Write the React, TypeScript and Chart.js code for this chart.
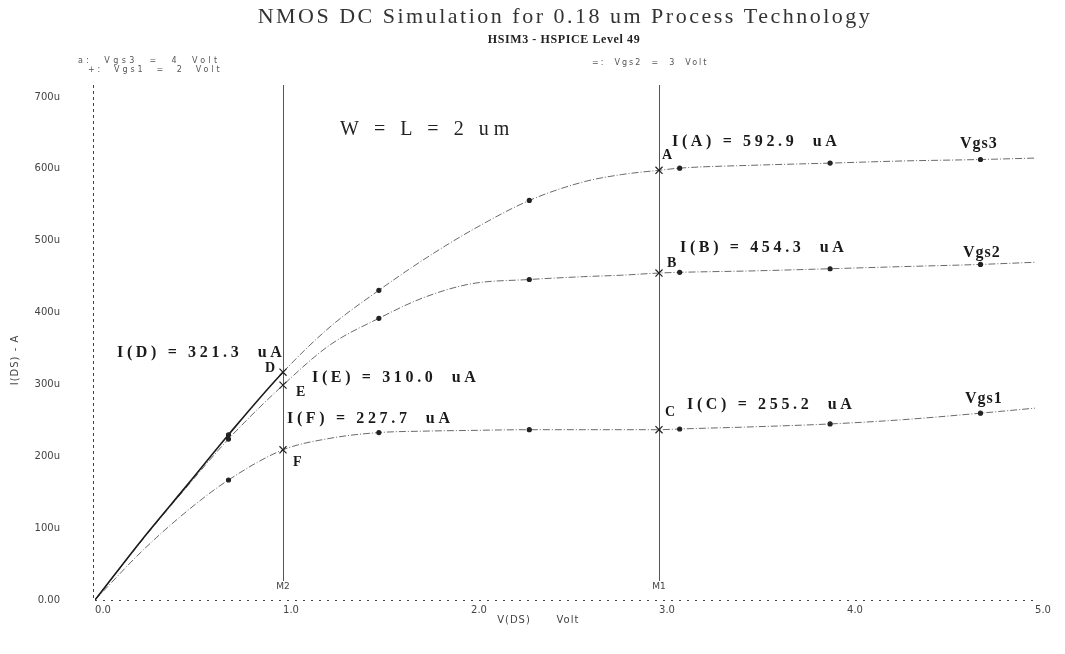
import React, { useEffect, useRef } from "react";
import { Chart, registerables } from "chart.js";

Chart.register(...registerables);

// ---- data (V in volts, I in microamps) ----
const VDS = [0, 0.25, 0.5, 0.71, 1.0, 1.25, 1.51, 1.75, 2.0, 2.31, 2.6, 2.8, 3.0, 3.11, 3.5, 3.91, 4.3, 4.71, 5.0];
const ID_VGS3 = [0, 84, 163, 230, 317, 380, 431, 474, 514, 556, 582, 592, 598, 601, 605, 608, 611, 613, 615];
const ID_VGS2 = [0, 83, 161, 224, 299, 355, 392, 421, 440, 446, 450, 452, 455, 456, 458, 461, 464, 467, 470];
const ID_VGS1 = [0, 68, 126, 167, 209, 225, 233, 235, 236, 237, 237, 237, 237, 238, 241, 245, 251, 260, 267];

const X_TICKS = ["0.0", "1.0", "2.0", "3.0", "4.0", "5.0"];
const Y_TICKS = ["0.00", "100u", "200u", "300u", "400u", "500u", "600u", "700u"];

const MARKER_X = [0.71, 1.51, 2.31, 3.11, 3.91, 4.71];
const CURSOR_X = [1.0, 3.0];
const CURSOR_NAMES = ["M2", "M1"];

const TITLE = "NMOS DC Simulation for 0.18 um Process Technology";
const SUBTITLE = "HSIM3 - HSPICE Level 49";
const LEGEND_LINES = ["a:  Vgs3  =  4  Volt", "+:  Vgs1  =  2  Volt"];
const LEGEND_RIGHT = "=:  Vgs2  =  3  Volt";

const READOUTS = ["I(A) = 592.9  uA", "I(B) = 454.3  uA", "I(C) = 255.2  uA", "I(D) = 321.3  uA", "I(E) = 310.0  uA", "I(F) = 227.7  uA"];
const POINT_NAMES = ["A", "B", "C", "D", "E", "F"];
const CURVE_NAMES = ["Vgs3", "Vgs2", "Vgs1"];

const toXY = (ys: number[]) => VDS.map((x, i) => ({ x, y: ys[i] }));

function pointRadius(ctx: any) {
  const x = VDS[ctx.dataIndex];
  if (CURSOR_X.includes(x)) return 5;
  if (MARKER_X.includes(x)) return 2;
  return 0;
}
function pointStyle(ctx: any) {
  const x = VDS[ctx.dataIndex];
  return CURSOR_X.includes(x) ? "crossRot" : "circle";
}

const DASH = [7, 2, 1, 2];

function makeDataset(label: string, ys: number[], solidUntil: number) {
  return {
    label,
    data: toXY(ys),
    borderColor: "#6a6a6a",
    borderWidth: 1,
    cubicInterpolationMode: "monotone" as const,
    fill: false,
    pointRadius,
    pointHoverRadius: pointRadius,
    pointStyle,
    pointBackgroundColor: "#222",
    pointBorderColor: "#222",
    pointBorderWidth: 1.2,
    segment: {
      borderDash: (c: any) => (c.p1.parsed.x <= solidUntil ? [] : DASH),
      borderColor: (c: any) => (c.p1.parsed.x <= solidUntil ? "#1a1a1a" : "#6a6a6a"),
      borderWidth: (c: any) => (c.p1.parsed.x <= solidUntil ? 1.6 : 1),
    },
  };
}

const overlay = {
  id: "overlay",
  beforeDatasetsDraw(chart: any) {
    const { ctx, chartArea, scales } = chart;
    ctx.save();
    // axes: dashed left axis, dotted bottom axis
    ctx.lineWidth = 1;
    ctx.strokeStyle = "#444";
    ctx.setLineDash([3, 3]);
    ctx.beginPath();
    ctx.moveTo(chartArea.left - 1.5, chartArea.top - 12);
    ctx.lineTo(chartArea.left - 1.5, chartArea.bottom);
    ctx.stroke();
    ctx.setLineDash([2, 6]);
    ctx.beginPath();
    ctx.moveTo(chartArea.left, chartArea.bottom + 0.5);
    ctx.lineTo(chartArea.right, chartArea.bottom + 0.5);
    ctx.stroke();
    ctx.setLineDash([]);
    // cursor lines
    ctx.strokeStyle = "#555";
    CURSOR_X.forEach((v) => {
      const px = Math.round(scales.x.getPixelForValue(v)) + 0.5;
      ctx.beginPath();
      ctx.moveTo(px, chartArea.top - 12);
      ctx.lineTo(px, chartArea.bottom - 19);
      ctx.stroke();
    });
    ctx.font = "9px 'DejaVu Sans'";
    ctx.fillStyle = "#444";
    ctx.textAlign = "center";
    ctx.textBaseline = "middle";
    CURSOR_X.forEach((v, i) => {
      ctx.fillText(CURSOR_NAMES[i], scales.x.getPixelForValue(v), chartArea.bottom - 13);
    });
    ctx.restore();
  },
  afterDraw(chart: any) {
    const { ctx } = chart;
    ctx.save();
    const text = (s: string, x: number, y: number, font: string, color: string, align: string, spacing: number) => {
      ctx.font = font;
      ctx.fillStyle = color;
      ctx.textAlign = align;
      ctx.textBaseline = "middle";
      (ctx as any).letterSpacing = spacing + "px";
      ctx.fillText(s, x, y);
    };
    // titles
    text(TITLE, 565, 17, "22px 'Liberation Serif'", "#333", "center", 2.5);
    text(SUBTITLE, 564, 40, "bold 12px 'Liberation Serif'", "#222", "center", 0.6);
    // legend-ish lines
    text(LEGEND_LINES[0], 78, 61, "8px 'DejaVu Sans'", "#555", "left", 3.4);
    text(LEGEND_LINES[1], 88, 70, "8px 'DejaVu Sans'", "#555", "left", 2.9);
    text(LEGEND_RIGHT, 592, 63, "8px 'DejaVu Sans'", "#555", "left", 2.0);
    // W = L
    text("W = L = 2 um", 340, 130, "20px 'Liberation Serif'", "#222", "left", 5);
    // readouts
    const rPos = [[672, 142], [680, 248], [687, 405], [117, 353], [312, 378], [287, 419]];
    READOUTS.forEach((s, i) => text(s, rPos[i][0], rPos[i][1], "bold 16px 'Liberation Serif'", "#1a1a1a", "left", 3.65));
    const pPos = [[662, 155], [667, 263], [665, 412], [265, 368], [296, 392], [293, 462]];
    POINT_NAMES.forEach((s, i) => text(s, pPos[i][0], pPos[i][1], "bold 14px 'Liberation Serif'", "#1a1a1a", "left", 0));
    const cPos = [[960, 144], [963, 253], [965, 399]];
    CURVE_NAMES.forEach((s, i) => text(s, cPos[i][0], cPos[i][1], "bold 16px 'Liberation Serif'", "#1a1a1a", "left", 1));
    // axis titles
    text("V(DS)", 514, 620, "10px 'DejaVu Sans'", "#444", "center", 1);
    text("Volt", 568, 620, "10px 'DejaVu Sans'", "#444", "center", 1);
    ctx.translate(15, 360);
    ctx.rotate(-Math.PI / 2);
    text("I(DS) - A", 0, 0, "10px 'DejaVu Sans'", "#444", "center", 1);
    ctx.restore();
  },
};

export default function App() {
  const ref = useRef<HTMLCanvasElement>(null);
  useEffect(() => {
    const chart = new Chart(ref.current!, {
      type: "line",
      data: {
        datasets: [
          makeDataset("Vgs3", ID_VGS3, 1.0),
          makeDataset("Vgs2", ID_VGS2, -1),
          makeDataset("Vgs1", ID_VGS1, -1),
        ],
      },
      options: {
        animation: false,
        responsive: false,
        devicePixelRatio: 1,
        layout: { padding: { left: 0, top: 97, right: 30, bottom: 0 } },
        plugins: { legend: { display: false }, tooltip: { enabled: false }, title: { display: false } },
        scales: {
          x: {
            type: "linear",
            min: 0,
            max: 5,
            grid: { display: false, drawTicks: false },
            border: { display: false },
            ticks: {
              stepSize: 1,
              padding: 4,
              labelOffset: 8,
              color: "#444",
              font: { family: "'DejaVu Sans'", size: 10 },
              callback: (v: any) => X_TICKS[Math.round(Number(v))],
            },
            afterFit: (s: any) => { s.height = 54; },
          },
          y: {
            type: "linear",
            min: 0,
            max: 700,
            grid: { display: false, drawTicks: false },
            border: { display: false },
            ticks: {
              stepSize: 100,
              padding: 35,
              color: "#444",
              font: { family: "'DejaVu Sans'", size: 10 },
              callback: (v: any) => Y_TICKS[Math.round(Number(v) / 100)],
            },
            afterFit: (s: any) => { s.width = 95; },
          },
        },
      } as any,
      plugins: [overlay],
    });
    return () => chart.destroy();
  }, []);
  return (
    <div style={{ position: "absolute", left: 0, top: 0, width: 1065, height: 654, background: "#fff" }}>
      <canvas ref={ref} width={1065} height={654} style={{ display: "block", width: 1065, height: 654 }} />
    </div>
  );
}
